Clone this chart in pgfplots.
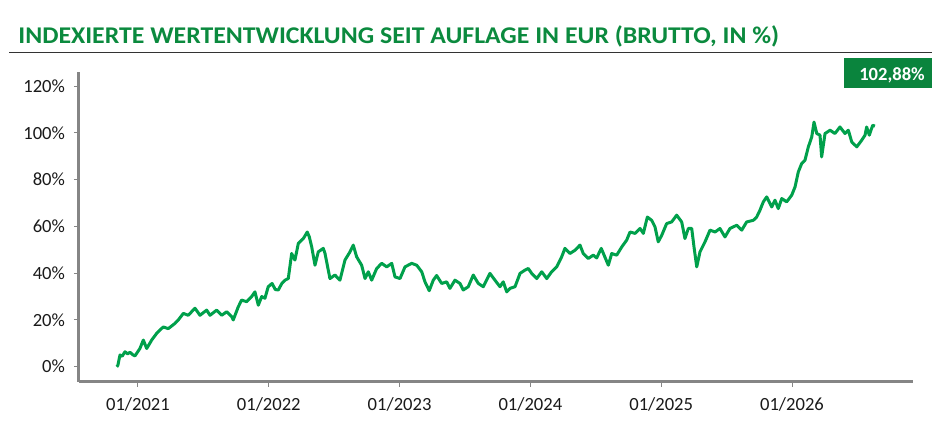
\documentclass[border=0pt]{standalone}
\usepackage{fontspec}
\setmainfont{Carlito}
\usepackage{pgfplots}
\pgfplotsset{compat=1.18}
\usepackage{pgfplotstable}
\definecolor{titlegreen}{HTML}{0B8A3E}
\definecolor{boxgreen}{HTML}{0A843D}
\definecolor{linegreen}{HTML}{00A04B}
\definecolor{axgray}{HTML}{858585}
\definecolor{txt}{HTML}{1A1A1A}
\pgfplotstableread{
m perf
-1.95 0
-1.85 0.5
-1.65 5
-1.45 4.5
-1.19 6.4
-0.95 5.5
-0.73 6.2
-0.50 5.2
-0.28 4.6
0.18 7.8
0.49 11.4
0.80 7.8
1.26 11.4
1.72 14.3
2.02 15.7
2.32 17
2.78 16.3
3.39 18.5
3.70 20
4.16 22.8
4.61 22
5.23 25
5.69 22
6.30 24.2
6.61 22
7.22 24.2
7.68 22
8.14 23.5
8.60 21.4
8.74 20
9.20 25.6
9.51 28.5
9.97 27.8
10.43 30
10.73 32
11.04 26.3
11.35 30
11.65 29.3
11.95 34.2
12.30 35.6
12.60 33
12.87 32.8
13.20 35.6
13.49 37
13.79 37.7
14.10 48.4
14.40 45.6
14.71 52.7
15.17 54.8
15.53 57.6
15.72 55.5
15.94 51.2
16.24 43.4
16.54 49.1
17.00 50.6
17.16 48.4
17.61 37.7
18.07 39.2
18.53 37
18.99 45.6
19.45 49.1
19.75 52
20.06 47
20.52 43.4
20.83 37.7
21.13 40.6
21.44 37
21.90 42
22.36 44.2
22.82 42.7
23.28 44.2
23.58 38.4
24.04 37.7
24.50 42.7
25.11 44.2
25.57 43.4
26.03 40.6
26.33 36.3
26.72 32.5
27.09 37
27.40 39
27.86 35.6
28.32 36.3
28.62 33.5
29.08 37
29.54 35.6
29.84 32.8
30.30 34.2
30.76 39.2
31.22 35.6
31.68 34.2
32.29 39.9
32.75 37
33.21 34.2
33.51 36.3
33.83 32
34.13 33.5
34.59 34.2
35.05 39.9
35.50 41.3
35.81 42
36.12 39.9
36.58 37.7
37.04 40.6
37.50 37.7
37.95 40.6
38.41 42.7
38.87 47
39.17 50.6
39.63 48.4
40.09 49.8
40.55 52
40.85 48.4
41.31 46.3
41.77 47.7
42.08 46.5
42.50 50.6
43.15 43.4
43.46 48.4
43.92 47.7
44.38 51.2
44.83 54.1
45.14 57.6
45.60 57
46.06 59.1
46.36 57
46.73 64
47.13 62.6
47.43 59.8
47.73 53.4
48.05 56.2
48.50 61.2
48.96 61.9
49.42 64.8
49.88 61.9
50.18 54.8
50.49 59.1
50.80 59.1
51.01 51.2
51.26 42.7
51.56 49.1
52.02 53.4
52.48 58.4
52.94 57.6
53.39 59.1
53.85 55.5
54.31 59.1
54.93 60.5
55.39 58.4
55.84 61.9
56.45 62.6
56.76 64
57.06 66.9
57.37 70.5
57.68 72.6
58.14 68.3
58.44 71.2
58.74 67.6
59.06 71.9
59.51 70.5
59.97 73.3
60.28 76.9
60.58 83.3
60.89 86.9
61.19 88.3
61.50 94
61.81 98.2
62.02 104.6
62.27 99.7
62.57 99
62.72 89.7
63.03 99.7
63.49 101.1
63.94 99.7
64.40 102.5
64.86 99.7
65.17 101.1
65.48 96.1
65.94 94
66.39 96.8
66.70 99
66.85 102.5
67.09 99
67.40 103.2
67.61 102.88
}\perfdata
\begin{document}
\begin{tikzpicture}
\useasboundingbox (0,0) rectangle (475pt,220.5pt);
\node[anchor=base west, inner sep=0pt, text=titlegreen, font=\fontsize{12pt}{14pt}\selectfont\bfseries] at (9pt,198.75pt) {\scalebox{1.075}[1]{INDEXIERTE WERTENTWICKLUNG SEIT AUFLAGE IN EUR (BRUTTO, IN \%)}};
\draw[line width=0.75pt, color=black!80] (4.5pt,194.25pt) -- (466pt,194.25pt);
\fill[boxgreen] (422pt,176.5pt) rectangle (466pt,191.5pt);
\node[anchor=base, inner sep=0pt, text=white, font=\fontsize{9.3pt}{11pt}\selectfont\bfseries] at (446pt,180.5pt) {102,88\%};
\begin{axis}[
  at={(39.5pt,29.65pt)}, anchor=south west,
  scale only axis, width=417pt, height=154.85pt,
  xmin=-5.41, xmax=71.1, ymin=-6.4, ymax=126,
  axis x line*=bottom, axis y line*=left,
  axis line style={axgray, line width=1.5pt},
  tick align=outside, major tick length=2.5pt,
  tick style={axgray, line width=0.5pt},
  xtick={0,12,24,36,48,60},
  xticklabels={01/2021,01/2022,01/2023,01/2024,01/2025,01/2026},
  ytick={0,20,40,60,80,100,120},
  yticklabel={\pgfmathprintnumber{\tick}\%},
  /pgf/number format/assume math mode=true,
  ticklabel style={font=\fontsize{9.3pt}{11pt}\selectfont, text=txt},
  xticklabel style={yshift=-2pt},
  yticklabel style={xshift=-1pt},
  clip=false,
]
\addplot[linegreen, line width=1.5pt, line join=round, no marks] table[x=m, y=perf] {\perfdata};
\end{axis}
\end{tikzpicture}
\end{document}
